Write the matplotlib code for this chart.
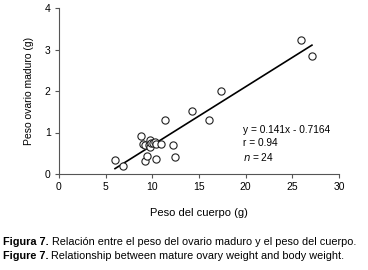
import numpy as np
import matplotlib
matplotlib.use('Agg')
import matplotlib.pyplot as plt

plt.rcParams['font.family'] = ['Liberation Sans', 'DejaVu Sans']

# body weight (g) vs mature ovary weight (g)
body_w = [6.0, 6.9, 8.8, 9.0, 9.2, 9.2, 9.4, 9.6, 9.8, 9.8, 9.9, 10.1, 10.3,
          10.4, 10.4, 10.9, 11.4, 12.2, 12.4, 14.2, 16.1, 17.4, 25.9, 27.1]
ovary_w = [0.33, 0.20, 0.91, 0.72, 0.71, 0.31, 0.43, 0.69, 0.82, 0.64, 0.75,
           0.74, 0.77, 0.72, 0.35, 0.72, 1.29, 0.71, 0.40, 1.53, 1.29, 2.01,
           3.24, 2.85]
slope, intercept = 0.141, -0.7164
r_val, n_val = 0.94, 24

x_ticks = [0, 5, 10, 15, 20, 25, 30]
y_ticks = [0, 1, 2, 3, 4]

fig = plt.figure(figsize=(3.68, 2.70), dpi=100)
ax = fig.add_axes([59/368, 1-174/270, 280/368, 166/270])

ax.plot(body_w, ovary_w, 'o', mfc='white', mec='#222222', ms=5.2, mew=0.8,
        zorder=3)
xl = np.array([min(body_w), max(body_w)])
ax.plot(xl, slope*xl + intercept, color='black', lw=1.2, zorder=2)

ax.set_xlim(0, 30)
ax.set_ylim(0, 4)
ax.set_xticks(x_ticks)
ax.set_yticks(y_ticks)
for s in ['top', 'right']:
    ax.spines[s].set_visible(False)
for s in ['left', 'bottom']:
    ax.spines[s].set_color('#555555')
    ax.spines[s].set_linewidth(0.8)
ax.tick_params(direction='out', length=3, width=0.8, color='#555555',
               labelsize=7.5, pad=3)

ax.set_xlabel('Peso del cuerpo (g)', fontsize=8, labelpad=11)
ax.set_ylabel('Peso ovario maduro (g)', fontsize=7.5, labelpad=8)

ax.text(19.7, 1.06, f'y = {slope}x - {abs(intercept)}', fontsize=7.3, va='center')
ax.text(19.7, 0.74, f'r = {r_val}', fontsize=7.3, va='center')
ax.text(19.7, 0.42, r'$\it{n}$ = ' + str(n_val), fontsize=7.3, va='center')

# caption: bold label + plain text
t1 = fig.text(3/368, 1-245/270, 'Figura 7.', fontsize=7.8, weight='bold')
ax.annotate(' Relación entre el peso del ovario maduro y el peso del cuerpo.',
            xy=(1, 0), xycoords=t1, fontsize=7.8, va='bottom')
t2 = fig.text(3/368, 1-259/270, 'Figure 7.', fontsize=7.8, weight='bold')
ax.annotate(' Relationship between mature ovary weight and body weight.',
            xy=(1, 0), xycoords=t2, fontsize=7.8, va='bottom')

fig.savefig('out.png', dpi=100)
